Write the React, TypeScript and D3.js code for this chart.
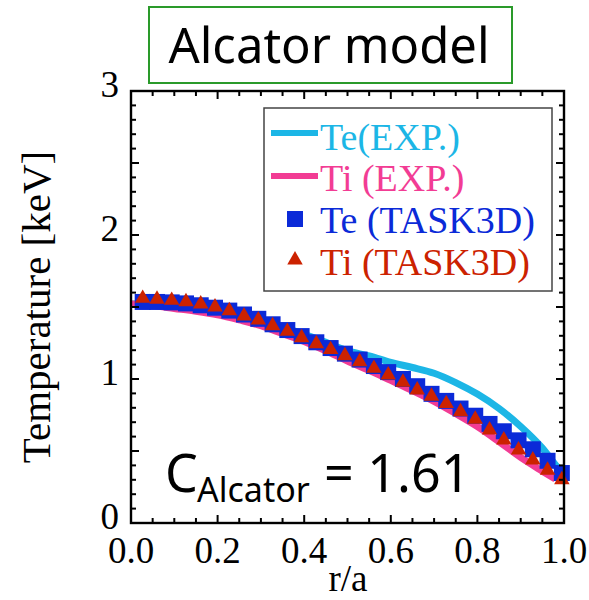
import React from "react";
import * as d3 from "d3";

// Radial profiles, r/a on x, temperature in keV on y
const expR = [0, 0.05, 0.1, 0.15, 0.2, 0.25, 0.3, 0.35, 0.4, 0.45, 0.5, 0.55, 0.6, 0.65, 0.7, 0.75, 0.8, 0.85, 0.9, 0.95, 0.98, 0.995];
const teExp = [1.52, 1.52, 1.51, 1.495, 1.47, 1.44, 1.405, 1.36, 1.31, 1.255, 1.195, 1.16, 1.115, 1.08, 1.04, 0.975, 0.895, 0.795, 0.67, 0.52, 0.405, 0.35];
const tiExpR = [0, 0.05, 0.1, 0.15, 0.2, 0.25, 0.3, 0.35, 0.4, 0.45, 0.5, 0.55, 0.6, 0.65, 0.7, 0.75, 0.8, 0.85, 0.9, 0.95, 0.98];
const tiExp = [1.52, 1.51, 1.49, 1.47, 1.445, 1.41, 1.37, 1.315, 1.26, 1.195, 1.125, 1.06, 0.99, 0.92, 0.845, 0.76, 0.67, 0.565, 0.455, 0.36, 0.305];

const simR = [0.027, 0.06, 0.094, 0.127, 0.161, 0.194, 0.227, 0.261, 0.294, 0.327, 0.361, 0.394, 0.428, 0.461, 0.494, 0.528, 0.561, 0.594, 0.628, 0.661, 0.694, 0.728, 0.761, 0.795, 0.828, 0.861, 0.895, 0.928, 0.962, 0.995];
const teSim = [1.535, 1.535, 1.532, 1.525, 1.512, 1.495, 1.475, 1.448, 1.418, 1.38, 1.34, 1.298, 1.255, 1.215, 1.176, 1.135, 1.09, 1.048, 1.0, 0.95, 0.897, 0.848, 0.795, 0.745, 0.688, 0.637, 0.574, 0.512, 0.432, 0.347];
const tiSim = [1.56, 1.554, 1.546, 1.537, 1.521, 1.5, 1.474, 1.437, 1.41, 1.37, 1.331, 1.287, 1.245, 1.204, 1.161, 1.12, 1.074, 1.028, 0.977, 0.924, 0.88, 0.829, 0.773, 0.72, 0.646, 0.576, 0.507, 0.437, 0.366, 0.3];

const xTickLabels = ["0.0", "0.2", "0.4", "0.6", "0.8", "1.0"];
const yTickLabels = ["0", "1", "2", "3"];

const C_TE_EXP = "#1cb6e6";
const C_TI_EXP = "#f23c94";
const C_TE_SIM = "#0b2ad8";
const C_TI_SIM = "#cc2200";

const legendItems = [
  { label: "Te(EXP.)", kind: "line", color: C_TE_EXP },
  { label: "Ti (EXP.)", kind: "line", color: C_TI_EXP },
  { label: "Te (TASK3D)", kind: "square", color: C_TE_SIM },
  { label: "Ti (TASK3D)", kind: "triangle", color: C_TI_SIM },
];

const W = 589;
const H = 600;
const left = 131;
const right = 564;
const top = 91;
const bottom = 523;

const serif = "'Liberation Serif', 'Times New Roman', serif";
const sans = "'Noto Sans', 'Liberation Sans', sans-serif";

export default function App() {
  const x = d3.scaleLinear().domain([0, 1]).range([left, right]);
  const y = d3.scaleLinear().domain([0, 3]).range([bottom, top]);

  const line = d3
    .line<[number, number]>()
    .x((d) => x(d[0]))
    .y((d) => y(d[1]))
    .curve(d3.curveMonotoneX);

  const teExpPts = expR.map((r, i) => [r, teExp[i]] as [number, number]);
  const tiExpPts = tiExpR.map((r, i) => [r, tiExp[i]] as [number, number]);

  const tri = d3.symbol().type(d3.symbolTriangle).size(104)() as string;
  const sq = d3.symbol().type(d3.symbolSquare).size(256)() as string;

  const xMinor = d3.range(0, 21).map((i) => i * 0.05);
  const yMinor = d3.range(0, 31).map((i) => i * 0.1);
  const isMajorX = (v: number) => Math.abs(v * 5 - Math.round(v * 5)) < 1e-6;
  const isMajorY = (v: number) => Math.abs(v * 2 - Math.round(v * 2)) < 1e-6;

  const legX = 264;
  const legY = 108;
  const rowY = [133, 176, 219, 260];
  const textBase = [150, 191, 233, 275];

  return (
    <svg
      width={W}
      height={H}
      style={{ position: "absolute", left: 0, top: 0, background: "#fff" }}
    >
      {/* title box */}
      <rect x={149} y={7} width={363} height={76} fill="#fff" stroke="#2a9a2a" strokeWidth={2} />
      <text x={329} y={63} textAnchor="middle" fontFamily={sans} fontSize={49} fill="#000">
        Alcator model
      </text>

      {/* profile curves */}
      <path d={line(teExpPts) as string} fill="none" stroke={C_TE_EXP} strokeWidth={7} />
      <path d={line(tiExpPts) as string} fill="none" stroke={C_TI_EXP} strokeWidth={7} />
      {simR.map((r, i) => (
        <path key={"s" + i} d={sq} transform={`translate(${x(r)},${y(teSim[i])})`} fill={C_TE_SIM} />
      ))}
      {simR.map((r, i) => (
        <path key={"t" + i} d={tri} transform={`translate(${x(r)},${y(tiSim[i])})`} fill={C_TI_SIM} />
      ))}

      {/* frame */}
      <rect x={left} y={top} width={right - left} height={bottom - top} fill="none" stroke="#000" strokeWidth={2.4} />

      {/* ticks, pointing inward on all four sides */}
      {xMinor.map((v, i) => {
        const len = isMajorX(v) ? 8 : 5;
        return (
          <g key={"xt" + i} stroke="#000" strokeWidth={2}>
            <line x1={x(v)} x2={x(v)} y1={bottom} y2={bottom - len} />
            <line x1={x(v)} x2={x(v)} y1={top} y2={top + len} />
          </g>
        );
      })}
      {yMinor.map((v, i) => {
        const len = isMajorY(v) ? 8 : 5;
        return (
          <g key={"yt" + i} stroke="#000" strokeWidth={2}>
            <line x1={left} x2={left + len} y1={y(v)} y2={y(v)} />
            <line x1={right} x2={right - len} y1={y(v)} y2={y(v)} />
          </g>
        );
      })}

      {/* tick labels */}
      {xTickLabels.map((t) => (
        <text key={t} x={x(+t)} y={563} textAnchor="middle" fontFamily={serif} fontSize={37} fill="#000">
          {t}
        </text>
      ))}
      {yTickLabels.map((t) => (
        <text key={t} x={119} y={y(+t) + 6} textAnchor="end" fontFamily={serif} fontSize={37} fill="#000">
          {t}
        </text>
      ))}

      {/* axis titles */}
      <text x={348} y={591} textAnchor="middle" fontFamily={serif} fontSize={37} fill="#000">
        r/a
      </text>
      <text
        transform={`translate(50,${(top + bottom) / 2}) rotate(-90)`}
        textAnchor="middle"
        fontFamily={serif}
        fontSize={41}
        fill="#000"
      >
        Temperature [keV]
      </text>

      {/* legend */}
      <rect x={legX} y={legY} width={288} height={183} fill="#fff" stroke="#444" strokeWidth={1.5} />
      {legendItems.map((it, i) => (
        <g key={it.label}>
          {it.kind === "line" && (
            <line x1={271} x2={318} y1={rowY[i]} y2={rowY[i]} stroke={it.color} strokeWidth={6} />
          )}
          {it.kind === "square" && (
            <path d={sq} transform={`translate(295,${rowY[i]})`} fill={it.color} />
          )}
          {it.kind === "triangle" && (
            <path d={tri} transform={`translate(295,${rowY[i]})`} fill={it.color} />
          )}
          <text x={320} y={textBase[i]} fontFamily={serif} fontSize={38} fill={it.color}>
            {it.label}
          </text>
        </g>
      ))}

      {/* model coefficient */}
      <text fontFamily={sans} fill="#000">
        <tspan x={165} y={492} fontSize={52}>C</tspan>
        <tspan x={197} y={502} fontSize={34}>Alcator</tspan>
        <tspan x={324} y={492} fontSize={52}>= 1.61</tspan>
      </text>
    </svg>
  );
}
